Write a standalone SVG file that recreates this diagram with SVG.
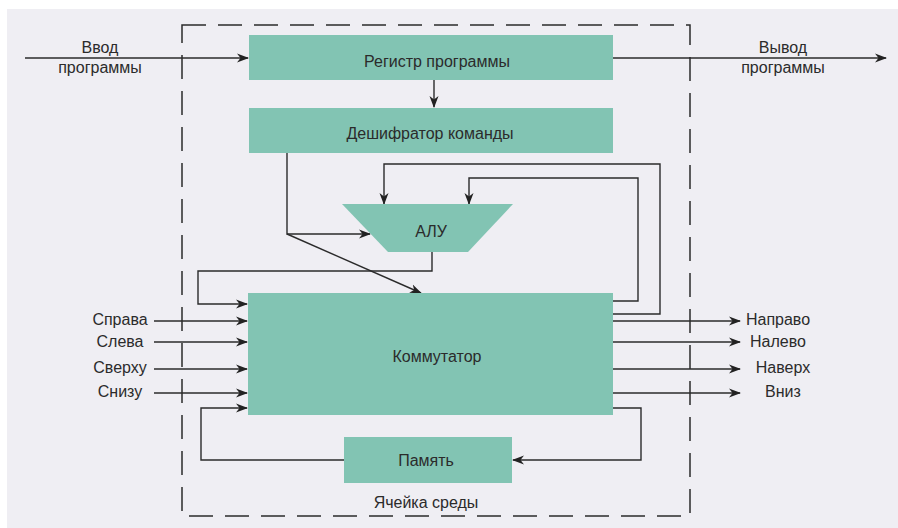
<svg xmlns="http://www.w3.org/2000/svg" width="898" height="528" viewBox="0 0 898 528">
<defs>
<marker id="ah" markerWidth="12" markerHeight="10" refX="11" refY="5" orient="auto" markerUnits="userSpaceOnUse">
<path d="M0,0.5 L12,5 L0,9.5 L3.5,5 Z" fill="#222"/>
</marker>
</defs>
<style>
.box{fill:#82c4b3}
.ln{fill:none;stroke:#2b2b2b;stroke-width:1.4}
.ar{marker-end:url(#ah)}
text{font-family:"Liberation Sans",Arial,sans-serif;font-size:16px;fill:#2b2b2b;text-anchor:middle}
</style>
<rect x="0" y="0" width="898" height="528" fill="#ffffff"/>
<rect x="7" y="9" width="891" height="519" fill="#efeef3"/>
<g id="cell">
<rect x="182" y="25" width="508" height="491" fill="none" stroke="#2b2b2b" stroke-width="1.5" stroke-dasharray="24 12"/>
<text x="426" y="508">Ячейка среды</text>
</g>
<g id="connectors">
<path class="ln ar" d="M25,58 H248"/>
<path class="ln ar" d="M613,58 H886"/>
<path class="ln ar" d="M434,80 V107"/>
<path class="ln ar" d="M287,153 V234 H370"/>
<path class="ln ar" d="M287,234 L421,293"/>
<path class="ln ar" d="M613,314 H660 V164 H384 V204"/>
<path class="ln ar" d="M613,301 H638 V178 H469 V204"/>
<path class="ln ar" d="M432,252 V271 H198 V304 H247"/>
<path class="ln ar" d="M154,321 H247"/>
<path class="ln ar" d="M154,342 H247"/>
<path class="ln ar" d="M154,369 H247"/>
<path class="ln ar" d="M154,393 H247"/>
<path class="ln ar" d="M613,321 H740"/>
<path class="ln ar" d="M613,342 H740"/>
<path class="ln ar" d="M613,369 H740"/>
<path class="ln ar" d="M613,393 H740"/>
<path class="ln ar" d="M344,460 H201 V408 H247"/>
<path class="ln ar" d="M613,408 H641 V460 H513"/>
</g>
<g id="labels">
<text x="100" y="53">Ввод</text>
<text x="100" y="73">программы</text>
<text x="783" y="53">Вывод</text>
<text x="783" y="73">программы</text>
<text x="120" y="325">Справа</text>
<text x="120" y="347">Слева</text>
<text x="120" y="373">Сверху</text>
<text x="120" y="397">Снизу</text>
<text x="778" y="325">Направо</text>
<text x="778" y="347">Налево</text>
<text x="783" y="373">Наверх</text>
<text x="783" y="397">Вниз</text>
</g>
<g id="register">
<rect class="box" x="249" y="35" width="364" height="45"/>
<text x="437" y="67">Регистр программы</text>
</g>
<g id="decoder">
<rect class="box" x="249" y="108" width="364" height="45"/>
<text x="430" y="139">Дешифратор команды</text>
</g>
<g id="alu">
<polygon class="box" points="342,204 513,204 468,252 388,252"/>
<text x="431" y="237">АЛУ</text>
</g>
<g id="switch">
<rect class="box" x="248" y="293" width="365" height="122"/>
<text x="437" y="362">Коммутатор</text>
</g>
<g id="memory">
<rect class="box" x="344" y="437" width="168" height="46"/>
<text x="426" y="466">Память</text>
</g>
</svg>
